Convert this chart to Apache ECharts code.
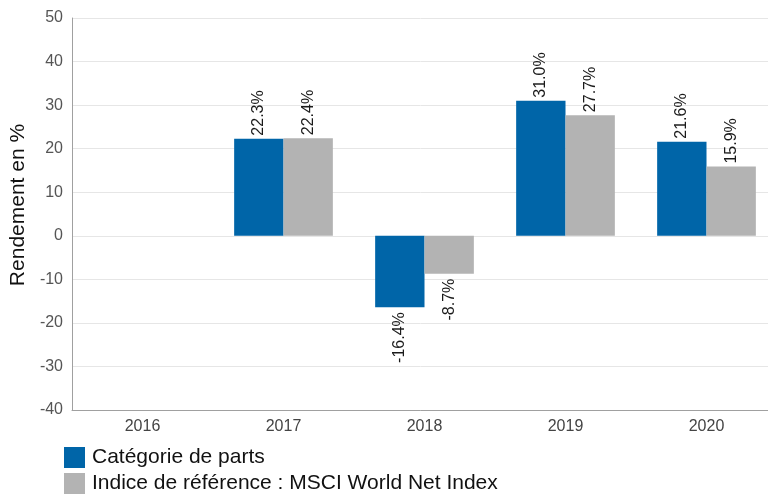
<!DOCTYPE html>
<html>
<head>
<meta charset="utf-8">
<script src="https://cdn.jsdelivr.net/npm/echarts@6/dist/echarts.min.js"></script>
<style>
html,body{margin:0;padding:0;background:#fff;}
#chart{width:768px;height:496px;}
</style>
</head>
<body>
<div id="chart"></div>
<script>
var categories = ['2016', '2017', '2018', '2019', '2020'];
var fundValues = [null, 22.3, -16.4, 31.0, 21.6];
var indexValues = [null, 22.4, -8.7, 27.7, 15.9];
var seriesNames = ['Catégorie de parts', 'Indice de référence : MSCI World Net Index'];
var yAxisName = 'Rendement en %';

var FONT = '"Liberation Sans", Arial, Helvetica, sans-serif';

function toData(arr) {
  return arr.map(function (v) {
    if (v === null) return null;
    if (v < 0) {
      return {
        value: v,
        label: { position: 'bottom', align: 'right', distance: 5 }
      };
    }
    return v;
  });
}

var labelBase = {
  show: true,
  position: 'top',
  rotate: 90,
  align: 'left',
  verticalAlign: 'middle',
  distance: 3,
  fontSize: 16,
  fontFamily: FONT,
  color: '#1a1a1a',
  formatter: function (p) { return p.value.toFixed(1) + '%'; }
};

var chart = echarts.init(document.getElementById('chart'), null, { renderer: 'canvas' });
chart.setOption({
  animation: false,
  backgroundColor: '#ffffff',
  textStyle: { fontFamily: FONT },
  grid: { left: 72, top: 18, bottom: 86, width: 705, containLabel: false, outerBoundsMode: 'none' },
  legend: {
    orient: 'vertical',
    left: 64,
    top: 447,
    padding: 0,
    height: 80,
    itemWidth: 21,
    itemHeight: 21,
    itemGap: 5,
    icon: 'rect',
    textStyle: { fontSize: 21, color: '#111', fontFamily: FONT, padding: [0, 0, 0, 2], lineHeight: 21 },
    data: seriesNames
  },
  xAxis: {
    type: 'category',
    data: categories,
    axisLine: { onZero: false, lineStyle: { color: '#a0a0a0', width: 1 } },
    axisTick: { show: false },
    axisLabel: { fontSize: 16, color: '#444', margin: 9, fontFamily: FONT },
    splitLine: { show: false }
  },
  yAxis: {
    type: 'value',
    min: -40,
    max: 50,
    interval: 10,
    name: yAxisName,
    nameLocation: 'middle',
    nameGap: 42,
    nameTextStyle: { fontSize: 21, color: '#111', fontFamily: FONT, padding: [0, 0, 0, 18] },
    axisLine: { show: true, lineStyle: { color: '#a0a0a0', width: 1 } },
    axisTick: { show: false },
    axisLabel: { fontSize: 16, color: '#555', margin: 9, fontFamily: FONT },
    splitLine: { show: true, lineStyle: { color: '#e6e6e6', width: 1 } }
  },
  series: [
    {
      name: seriesNames[0],
      type: 'bar',
      data: toData(fundValues),
      barGap: '0%',
      barCategoryGap: '30%',
      itemStyle: { color: '#0065a8' },
      label: labelBase
    },
    {
      name: seriesNames[1],
      type: 'bar',
      data: toData(indexValues),
      barGap: '0%',
      barCategoryGap: '30%',
      itemStyle: { color: '#b3b3b3' },
      label: labelBase
    }
  ]
});
</script>
</body>
</html>
